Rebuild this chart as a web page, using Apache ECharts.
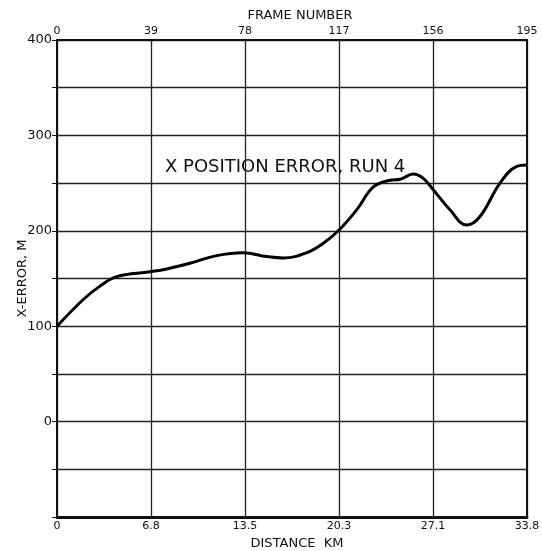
<!DOCTYPE html>
<html>
<head>
<meta charset="utf-8">
<script src="https://cdn.jsdelivr.net/npm/echarts@6/dist/echarts.min.js"></script>
<style>html,body{margin:0;padding:0;background:#fff}#c{width:542px;height:551px}</style>
</head>
<body>
<div id="c"></div>
<script>
const distanceKm = [0, 1.89, 3.09, 4.29, 6.69, 7.89, 9.56, 11.48, 13.40, 15.08, 16.27, 17.96, 19.15, 20.23, 21.55, 22.75, 23.95, 24.67, 25.62, 26.34, 27.06, 28.26, 29.46, 30.42, 31.86, 33.06, 33.78];
const xErrorM    = [100, 128, 142, 152, 157, 160, 166, 174, 177, 173, 171.5, 177, 187, 200, 222, 246, 253, 254, 259.5, 255, 243, 222, 206, 215, 250, 267.5, 269];
const distanceTickLabels = ['0', '6.8', '13.5', '20.3', '27.1', '33.8'];
const frameTickLabels = ['0', '39', '78', '117', '156', '195'];
const titleText = 'X POSITION ERROR, RUN 4';

const font = 'DejaVu Sans';
const chart = echarts.init(document.getElementById('c'));
const kmStep = 33.8 / 5;
chart.setOption({
  animation: false,
  backgroundColor: '#fff',
  grid: { left: 57, right: 15, top: 40, bottom: 34, outerBoundsMode: 'none', containLabel: false },
  graphic: [{
    type: 'text', left: 165, top: 158,
    style: { text: titleText, font: '18px ' + font, fill: '#111' }
  }],
  xAxis: [{
    type: 'value', min: 0, max: 33.8, interval: kmStep, position: 'bottom',
    name: 'DISTANCE  KM', nameLocation: 'middle', nameGap: 20, nameMoveOverlap: false,
    nameTextStyle: { fontFamily: font, fontSize: 13, color: '#111', padding: [0, 0, 0, 10] },
    axisLine: { onZero: false, lineStyle: { color: '#111', width: 3 } },
    axisTick: { show: false },
    axisLabel: { fontFamily: font, fontSize: 11, color: '#111', margin: 4,
      formatter: v => distanceTickLabels[Math.round(v / kmStep)] },
    splitLine: { show: true, lineStyle: { color: '#222', width: 1.3 } }
  }, {
    type: 'value', min: 0, max: 195, interval: 39, position: 'top',
    name: 'FRAME NUMBER', nameLocation: 'middle', nameGap: 18, nameMoveOverlap: false,
    nameTextStyle: { fontFamily: font, fontSize: 13, color: '#111', padding: [0, 0, 0, 16] },
    axisLine: { onZero: false, lineStyle: { color: '#111', width: 2 } },
    axisTick: { show: false },
    axisLabel: { fontFamily: font, fontSize: 11, color: '#111', margin: 3,
      formatter: v => frameTickLabels[Math.round(v / 39)] },
    splitLine: { show: false }
  }],
  yAxis: [{
    type: 'value', min: -100, max: 400, interval: 50,
    name: 'X-ERROR, M', nameLocation: 'middle', nameGap: 28, nameRotate: 90, nameMoveOverlap: false,
    nameTextStyle: { fontFamily: font, fontSize: 13, color: '#111' },
    axisLine: { show: true, onZero: false, lineStyle: { color: '#111', width: 2 } },
    axisTick: { show: true, inside: false, length: 5, lineStyle: { color: '#111' } },
    axisLabel: { fontFamily: font, fontSize: 13, color: '#111', margin: 5,
      formatter: v => (v % 100 === 0 && v > -100) ? String(v) : '' },
    splitLine: { show: true, lineStyle: { color: '#222', width: 1.3 } }
  }, {
    type: 'value', min: -100, max: 400, interval: 50, position: 'right',
    axisLine: { show: true, onZero: false, lineStyle: { color: '#111', width: 2 } },
    axisTick: { show: false }, axisLabel: { show: false }, splitLine: { show: false }
  }],
  series: [{
    type: 'line', xAxisIndex: 0, yAxisIndex: 0, smooth: 0.4, symbol: 'none',
    lineStyle: { color: '#000', width: 3 },
    data: distanceKm.map((d, i) => [d, xErrorM[i]])
  }]
});
</script>
</body>
</html>
